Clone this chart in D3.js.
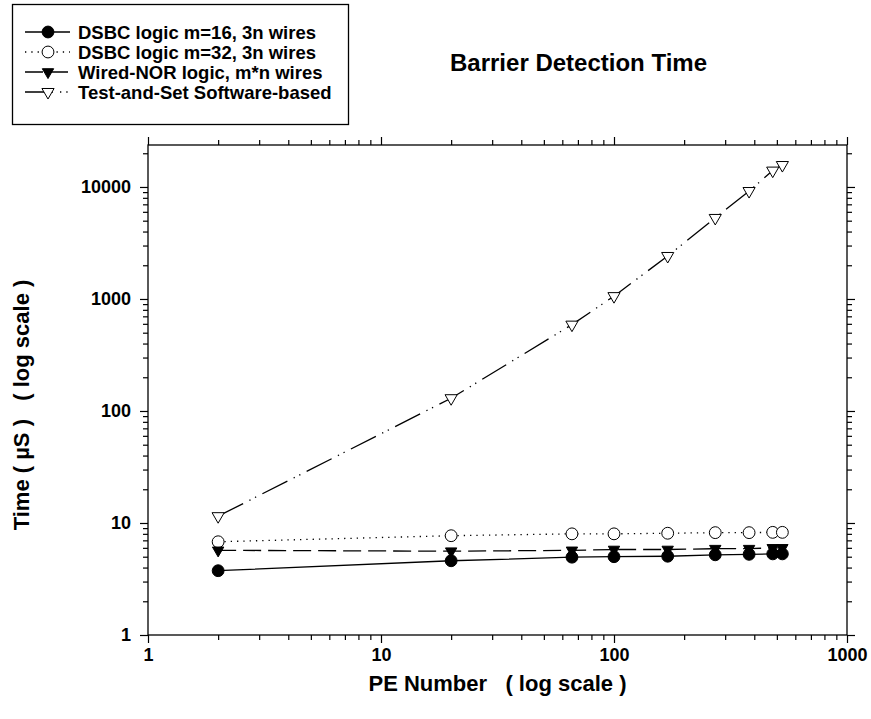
<!DOCTYPE html>
<html>
<head>
<meta charset="utf-8">
<script src="https://cdn.jsdelivr.net/npm/d3@7"></script>
<style>
    body { margin: 0; background: #fff; }
    svg { font-family: "Liberation Sans", Arial, sans-serif; font-weight: bold; }
</style>
</head>
<body>
<div id="chart"></div>
<script>

// values
const peNumbers  = [2, 20, 66, 100, 170, 272, 380, 480, 528];
const dsbc16     = [3.75, 4.6, 4.95, 5.0, 5.05, 5.2, 5.25, 5.3, 5.3];
const dsbc32     = [6.8, 7.7, 8.0, 8.0, 8.1, 8.2, 8.2, 8.25, 8.25];
const wiredNor   = [5.7, 5.6, 5.7, 5.8, 5.8, 5.9, 5.9, 6.0, 6.0];
const testAndSet = [11.5, 130, 590, 1060, 2420, 5290, 9200, 14000, 15700];

const seriesNames = ["DSBC logic m=16, 3n wires", "DSBC logic m=32, 3n wires",
    "Wired-NOR logic, m*n wires", "Test-and-Set Software-based"];

const xTickLabels = [1, 10, 100, 1000];
const yTickLabels = [1, 10, 100, 1000, 10000];


class BarrierChart {

    constructor(parentElement) {
        this.parentElement = parentElement;
        this.series = [
            {name: seriesNames[0], values: dsbc16, marker: "circle", fill: "#000", dash: null},
            {name: seriesNames[1], values: dsbc32, marker: "circle", fill: "#fff", dash: "1.3,5"},
            {name: seriesNames[2], values: wiredNor, marker: "triangle", fill: "#000", dash: "18,7"},
            {name: seriesNames[3], values: testAndSet, marker: "triangle", fill: "#fff", dash: "28,7,1.3,5,1.3,7"}
        ];
        this.initVis();
    }

    initVis() {
        let vis = this;

        vis.margin = {top: 145, right: 24, bottom: 84, left: 148};
        vis.width = 871 - vis.margin.left - vis.margin.right;
        vis.height = 719 - vis.margin.top - vis.margin.bottom;

        vis.root = d3.select("#" + vis.parentElement).append("svg")
            .attr("width", 871)
            .attr("height", 719);

        vis.svg = vis.root.append("g")
            .attr("transform", "translate(" + vis.margin.left + "," + vis.margin.top + ")");

        vis.xscale = d3.scaleLog().domain([1, 1000]).range([0, vis.width]);
        vis.yscale = d3.scaleLog().domain([1, 23700]).range([vis.height, 0]);

        // frame
        vis.svg.append("rect")
            .attr("width", vis.width)
            .attr("height", vis.height)
            .attr("fill", "none")
            .attr("stroke", "#000")
            .attr("stroke-width", 1.3);

        vis.drawAxes();

        // titles
        vis.root.append("text")
            .attr("x", 450)
            .attr("y", 71)
            .attr("text-anchor", "start")
            .style("font-size", "24px")
            .text("Barrier Detection Time");

        vis.root.append("text")
            .attr("x", vis.margin.left + vis.width / 2)
            .attr("y", 691)
            .attr("text-anchor", "middle")
            .style("font-size", "22px")
            .style("white-space", "pre")
            .text("PE Number   ( log scale )");

        vis.root.append("text")
            .attr("transform", "translate(29,405) rotate(-90)")
            .attr("text-anchor", "middle")
            .style("font-size", "22px")
            .style("white-space", "pre")
            .text("Time ( µS )   ( log scale )");

        vis.updateVis();
        vis.drawLegend();
    }

    drawAxes() {
        let vis = this;
        let fmt = d => d3.format("d")(d);

        let axes = [
            {axis: d3.axisBottom(vis.xscale), t: "translate(0," + vis.height + ")", scale: vis.xscale, labels: true},
            {axis: d3.axisTop(vis.xscale), t: "translate(0,0)", scale: vis.xscale, labels: false},
            {axis: d3.axisLeft(vis.yscale), t: "translate(0,0)", scale: vis.yscale, labels: true},
            {axis: d3.axisRight(vis.yscale), t: "translate(" + vis.width + ",0)", scale: vis.yscale, labels: false}
        ];

        axes.forEach(a => {
            let isX = a.scale === vis.xscale;
            let major = isX ? xTickLabels : yTickLabels;

            // minor ticks
            vis.svg.append("g")
                .attr("class", "axis minor")
                .attr("transform", a.t)
                .call(a.axis.tickValues(a.scale.ticks().filter(v => major.indexOf(v) < 0))
                    .tickSize(5).tickFormat(""));

            // major ticks
            let copy = a.axis.scale(a.scale).tickValues(major).tickSize(8)
                .tickPadding(isX ? 5 : 9)
                .tickFormat(a.labels ? fmt : "");
            vis.svg.append("g")
                .attr("class", "axis major")
                .attr("transform", a.t)
                .call(copy);
        });

        vis.svg.selectAll(".axis .domain").remove();
        vis.svg.selectAll(".axis line").attr("stroke", "#000").attr("stroke-width", 1.2);
        vis.svg.selectAll(".axis text")
            .attr("fill", "#000")
            .style("font-size", "18px")
            .style("font-family", "'Liberation Sans', Arial, sans-serif")
            .style("font-weight", "bold");
    }

    markerPath(s) {
        if (s.marker === "circle") {
            return d3.symbol(d3.symbolCircle, 110)();
        }
        return d3.symbol(d3.symbolTriangle, s.fill === "#fff" ? 64 : 56)();
    }

    updateVis() {
        let vis = this;

        let line = d3.line()
            .x(d => vis.xscale(d.x))
            .y(d => vis.yscale(d.y));

        vis.series.forEach(s => {
            let pts = peNumbers.map((x, i) => ({x: x, y: s.values[i]}));

            vis.svg.append("path")
                .datum(pts)
                .attr("fill", "none")
                .attr("stroke", "#000")
                .attr("stroke-width", 1.3)
                .attr("stroke-dasharray", s.dash)
                .attr("d", line);

            vis.svg.selectAll(null)
                .data(pts)
                .enter()
                .append("path")
                .attr("d", vis.markerPath(s))
                .attr("transform", d => "translate(" + vis.xscale(d.x) + "," + vis.yscale(d.y) + ")"
                    + (s.marker === "triangle" ? " rotate(180)" : ""))
                .attr("fill", s.fill)
                .attr("stroke", "#000")
                .attr("stroke-width", 1);
        });
    }

    drawLegend() {
        let vis = this;

        let lg = vis.root.append("g").attr("class", "legend");

        lg.append("rect")
            .attr("x", 12.5)
            .attr("y", 4.5)
            .attr("width", 336)
            .attr("height", 120)
            .attr("fill", "#fff")
            .attr("stroke", "#000")
            .attr("stroke-width", 1.3);

        vis.series.forEach((s, i) => {
            let y = 32 + i * 20;
            lg.append("line")
                .attr("x1", 25).attr("x2", 70)
                .attr("y1", y).attr("y2", y)
                .attr("stroke", "#000")
                .attr("stroke-width", 1.3)
                .attr("stroke-dasharray", s.dash);
            lg.append("path")
                .attr("d", vis.markerPath(s))
                .attr("transform", "translate(48," + y + ")" + (s.marker === "triangle" ? " rotate(180)" : ""))
                .attr("fill", s.fill)
                .attr("stroke", "#000")
                .attr("stroke-width", 1);
            lg.append("text")
                .attr("x", 78)
                .attr("y", y)
                .attr("dy", "0.36em")
                .style("font-size", "18.5px")
                .text(s.name);
        });
    }
}

let chart = new BarrierChart("chart");

</script>
</body>
</html>
